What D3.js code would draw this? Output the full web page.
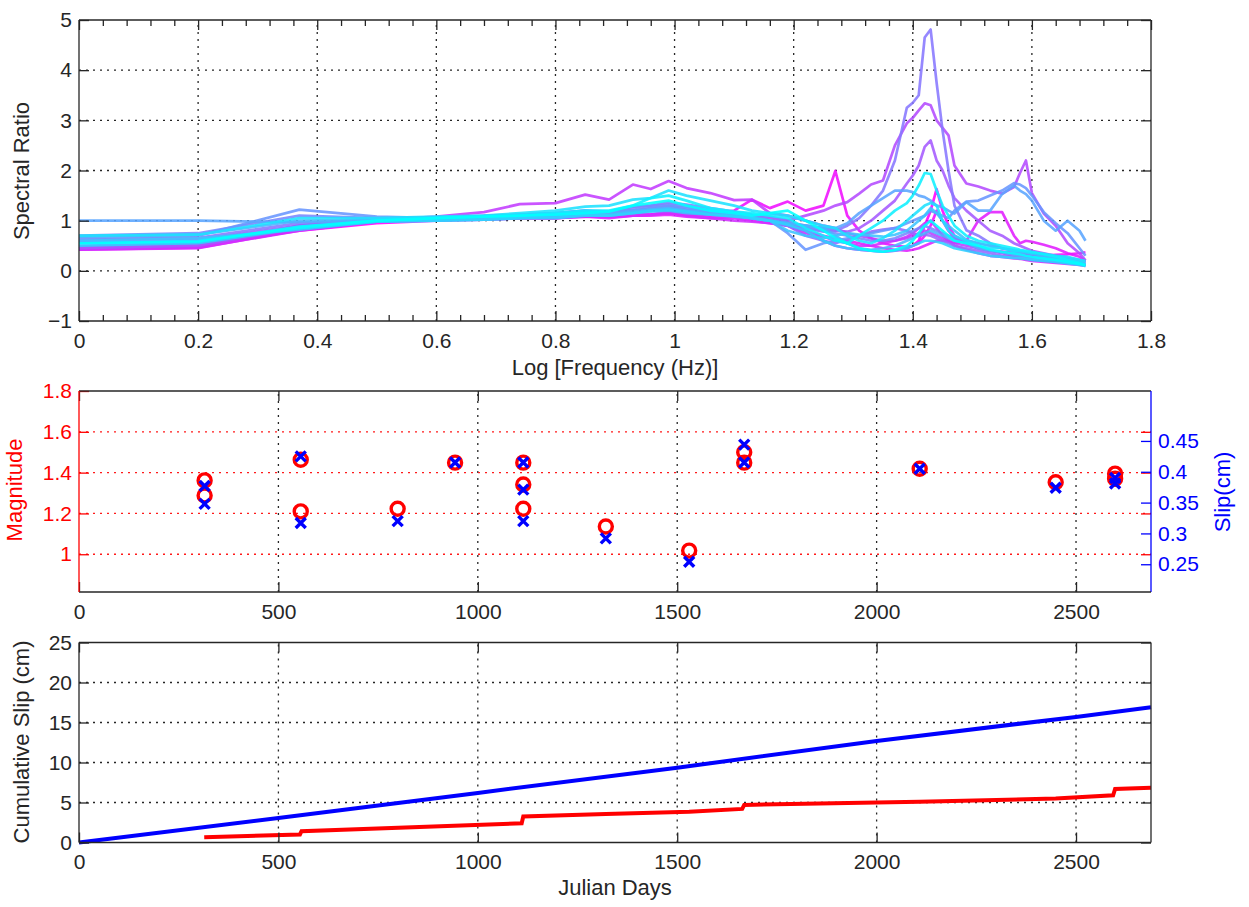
<!DOCTYPE html>
<html>
<head>
<meta charset="utf-8">
<script src="https://d3js.org/d3.v7.min.js"></script>
<style>
  body { margin: 0; background: #fff; }
</style>
</head>
<body>
<svg id="fig" width="1249" height="907"></svg>
<script>
// ---------- data ----------

// top panel: spectral ratio curves, one row per event (cyan -> magenta)
var logFreq = [0, 0.2, 0.37, 0.5, 0.6, 0.68, 0.74,
  0.8, 0.85, 0.89, 0.93, 0.96, 0.99, 1.02,
  1.06, 1.1, 1.13, 1.16, 1.19, 1.22, 1.25,
  1.27, 1.29, 1.31, 1.33, 1.35, 1.37, 1.39,
  1.40, 1.41, 1.42, 1.43, 1.44, 1.45, 1.46,
  1.47, 1.49, 1.51, 1.53, 1.55, 1.57, 1.58,
  1.59, 1.60, 1.62, 1.64, 1.66, 1.68, 1.69];

var spectralRatio = [
  [0.55, 0.58, 0.88, 1.0, 1.05, 1.08, 1.1,
   1.12, 1.15, 1.18, 1.3, 1.35, 1.4, 1.3,
   1.2, 1.15, 1.1, 1.15, 1.2, 1.0, 0.8,
   0.65, 0.55, 0.45, 0.4, 0.38, 0.42, 0.5,
   0.6, 0.75, 0.9, 1.0, 0.9, 0.8, 0.7,
   0.6, 0.55, 0.5, 0.42, 0.38, 0.35, 0.33,
   0.3, 0.28, 0.25, 0.22, 0.18, 0.14, 0.1],
  [0.55, 0.6, 0.85, 1.0, 1.05, 1.08, 1.1,
   1.15, 1.2, 1.2, 1.3, 1.45, 1.5, 1.4,
   1.25, 1.18, 1.15, 1.1, 1.05, 0.85, 0.7,
   0.6, 0.55, 0.7, 0.85, 1.0, 1.2, 1.35,
   1.5, 1.7, 1.95, 1.93, 1.6, 1.3, 1.1,
   0.9, 0.7, 0.6, 0.55, 0.5, 0.45, 0.42,
   0.4, 0.38, 0.33, 0.28, 0.22, 0.16, 0.12],
  [0.7, 0.72, 1.05, 1.05, 1.08, 1.1, 1.15,
   1.2, 1.28, 1.3, 1.42, 1.45, 1.6, 1.5,
   1.4, 1.3, 1.2, 1.15, 1.1, 1.0, 0.9,
   0.85, 0.7, 0.6, 0.55, 0.65, 0.8, 1.0,
   1.1, 1.2, 1.3, 1.35, 1.3, 1.0, 0.8,
   0.7, 0.6, 0.5, 0.45, 0.45, 0.4, 0.4,
   0.38, 0.36, 0.34, 0.3, 0.28, 0.22, 0.2],
  [0.5, 0.55, 0.85, 0.98, 1.0, 1.02, 1.05,
   1.05, 1.1, 1.1, 1.15, 1.2, 1.22, 1.18,
   1.12, 1.08, 1.05, 1.0, 0.92, 0.8, 0.6,
   0.5, 0.45, 0.42, 0.4, 0.38, 0.4, 0.45,
   0.5, 0.55, 0.6, 0.6, 0.58, 0.55, 0.5,
   0.45, 0.4, 0.35, 0.3, 0.28, 0.26, 0.25,
   0.24, 0.22, 0.2, 0.18, 0.15, 0.12, 0.1],
  [0.6, 0.65, 0.82, 0.98, 1.0, 1.02, 1.05,
   1.08, 1.12, 1.1, 1.15, 1.18, 1.2, 1.15,
   1.12, 1.1, 1.05, 1.0, 0.8, 0.7, 0.65,
   0.7, 0.75, 0.72, 0.7, 0.68, 0.72, 0.8,
   0.9, 1.0, 1.1, 1.25, 1.15, 1.0, 0.9,
   0.8, 0.62, 0.55, 0.5, 0.45, 0.4, 0.38,
   0.36, 0.34, 0.3, 0.27, 0.24, 0.2, 0.16],
  [0.68, 0.72, 1.0, 1.02, 1.05, 1.08, 1.1,
   1.1, 1.15, 1.12, 1.18, 1.22, 1.25, 1.2,
   1.18, 1.1, 1.05, 1.0, 0.95, 0.9, 0.85,
   0.7, 0.55, 0.45, 0.42, 0.45, 0.5, 0.6,
   0.65, 0.7, 0.75, 0.8, 0.75, 0.7, 0.65,
   0.6, 0.55, 0.45, 0.4, 0.36, 0.32, 0.3,
   0.28, 0.26, 0.24, 0.22, 0.2, 0.16, 0.13],
  [1.0, 1.0, 0.97, 1.0, 1.05, 1.05, 1.1,
   1.1, 1.15, 1.15, 1.2, 1.22, 1.25, 1.2,
   1.15, 1.1, 1.05, 1.0, 0.95, 0.9, 0.85,
   0.85, 0.95, 1.15, 1.3, 1.45, 1.6, 1.6,
   1.57, 1.5, 1.47, 1.4, 1.3, 1.27, 1.2,
   1.14, 1.37, 1.2, 1.2, 1.53, 1.7, 1.6,
   1.53, 1.4, 1.0, 0.8, 1.0, 0.8, 0.6],
  [0.65, 0.7, 1.22, 1.08, 1.05, 1.05, 1.1,
   1.1, 1.15, 1.15, 1.2, 1.25, 1.3, 1.25,
   1.2, 1.15, 1.1, 1.0, 0.75, 0.42, 0.55,
   0.6, 0.65, 0.7, 0.75, 0.8, 0.85, 0.95,
   1.0, 1.05, 1.1, 1.2, 1.15, 1.1, 1.05,
   1.2, 1.38, 1.4, 1.5, 1.6, 1.75, 1.72,
   1.65, 1.5, 1.17, 0.95, 0.75, 0.45, 0.3],
  [0.7, 0.75, 1.1, 1.05, 1.05, 1.1, 1.12,
   1.15, 1.2, 1.15, 1.25, 1.3, 1.32, 1.28,
   1.2, 1.15, 1.1, 1.0, 0.9, 0.85, 0.8,
   0.75, 0.7, 0.65, 0.6, 0.6, 0.65, 0.75,
   0.8, 0.85, 0.9, 0.85, 0.8, 0.75, 0.7,
   0.65, 0.6, 0.55, 0.5, 0.45, 0.42, 0.4,
   0.38, 0.35, 0.32, 0.3, 0.26, 0.22, 0.18],
  [0.62, 0.66, 0.95, 1.02, 1.05, 1.07, 1.12,
   1.15, 1.2, 1.18, 1.28, 1.3, 1.36, 1.32,
   1.25, 1.18, 1.12, 1.08, 1.0, 0.85, 0.78,
   0.8, 0.9, 1.05, 1.3, 1.6, 2.2, 3.25,
   3.35, 3.5, 4.65, 4.81, 3.75, 2.8, 2.0,
   1.3, 0.81, 0.7, 0.55, 0.45, 0.4, 0.38,
   0.35, 0.32, 0.28, 0.25, 0.2, 0.15, 0.12],
  [0.58, 0.62, 0.9, 1.0, 1.05, 1.05, 1.08,
   1.1, 1.15, 1.12, 1.2, 1.22, 1.25, 1.2,
   1.15, 1.12, 1.08, 1.0, 0.9, 0.7, 0.6,
   0.55, 0.62, 0.7, 0.78, 0.82, 0.85, 0.8,
   0.75, 0.7, 0.72, 0.7, 0.65, 0.6, 0.55,
   0.5, 0.45, 0.4, 0.35, 0.3, 0.28, 0.25,
   0.24, 0.22, 0.2, 0.18, 0.16, 0.14, 0.12],
  [0.45, 0.5, 0.85, 1.0, 1.05, 1.05, 1.1,
   1.1, 1.15, 1.12, 1.18, 1.2, 1.22, 1.2,
   1.15, 1.1, 1.05, 1.0, 0.95, 0.9, 0.85,
   0.8, 0.78, 0.85, 1.0, 1.2, 1.4, 1.74,
   1.9, 2.1, 2.47, 2.6, 2.2, 2.0, 1.7,
   1.45, 1.2, 1.0, 0.8, 0.7, 0.55, 0.5,
   0.45, 0.4, 0.35, 0.3, 0.25, 0.2, 0.18],
  [0.5, 0.55, 0.88, 1.0, 1.05, 1.08, 1.1,
   1.12, 1.15, 1.18, 1.2, 1.25, 1.28, 1.22,
   1.18, 1.12, 1.1, 1.05, 1.0, 1.1, 1.2,
   1.3, 1.37, 1.54, 1.72, 1.8, 2.5, 2.94,
   3.05, 3.2, 3.34, 3.3, 3.0, 2.85, 2.7,
   2.1, 1.74, 1.68, 1.6, 1.54, 1.67, 1.95,
   2.2, 1.55, 1.14, 0.9, 0.55, 0.35, 0.21],
  [0.48, 0.52, 0.9, 1.01, 1.08, 1.17, 1.33,
   1.35, 1.52, 1.42, 1.72, 1.63, 1.79, 1.65,
   1.55, 1.41, 1.42, 1.15, 1.1, 1.0, 0.9,
   0.85, 0.75, 0.7, 0.65, 0.6, 0.6, 0.65,
   0.7, 0.75, 0.8, 0.75, 0.7, 0.65, 0.6,
   0.55, 0.5, 0.45, 0.4, 0.38, 0.35, 0.33,
   0.32, 0.3, 0.28, 0.25, 0.2, 0.15, 0.1],
  [0.42, 0.46, 0.8, 0.98, 1.02, 1.02, 1.05,
   1.05, 1.08, 1.08, 1.1, 1.12, 1.15, 1.1,
   1.05, 1.0, 0.98, 0.95, 0.9, 0.75, 0.68,
   0.6, 0.55, 0.5, 0.5, 0.55, 0.6, 0.68,
   0.75, 0.85, 0.95, 1.0, 0.85, 0.7, 0.6,
   0.5, 0.42, 0.35, 0.3, 0.28, 0.25, 0.24,
   0.22, 0.2, 0.18, 0.16, 0.14, 0.12, 0.1],
  [0.42, 0.45, 0.82, 0.98, 1.02, 1.05, 1.05,
   1.05, 1.08, 1.05, 1.1, 1.1, 1.12, 1.08,
   1.05, 1.05, 1.0, 0.95, 0.9, 0.8, 0.7,
   0.65, 0.6, 0.55, 0.5, 0.45, 0.42, 0.4,
   0.42, 0.45, 0.5, 0.55, 0.6, 0.6, 0.58,
   0.55, 0.6, 1.0, 1.17, 1.17, 0.7, 0.55,
   0.6, 0.58, 0.52, 0.45, 0.35, 0.28, 0.2],
  [0.45, 0.48, 0.9, 1.0, 1.05, 1.05, 1.08,
   1.1, 1.12, 1.1, 1.15, 1.12, 1.18, 1.15,
   1.12, 1.2, 1.42, 1.25, 1.38, 1.2, 1.3,
   1.99, 1.1, 0.8, 0.65, 0.55, 0.5, 0.48,
   0.5, 0.55, 0.7, 0.9, 1.2, 1.0, 0.8,
   0.65, 0.55, 0.45, 0.4, 0.38, 0.36, 0.34,
   0.33, 0.32, 0.3, 0.32, 0.33, 0.35, 0.37],
  [0.45, 0.5, 0.8, 0.95, 1.0, 1.02, 1.05,
   1.05, 1.1, 1.08, 1.1, 1.12, 1.15, 1.12,
   1.1, 1.08, 1.05, 1.0, 0.95, 0.8, 0.6,
   0.5, 0.45, 0.42, 0.4, 0.38, 0.4, 0.45,
   0.5, 0.6, 0.9, 1.2, 1.63, 1.2, 0.9,
   0.7, 0.55, 0.45, 0.4, 0.35, 0.3, 0.3,
   0.28, 0.26, 0.25, 0.24, 0.22, 0.2, 0.18]
];

// middle panel: individual events
var eventDays = [315, 315, 556, 556, 799, 943, 1114, 1114, 1114, 1321, 1530, 1668, 1668, 2108, 2449, 2598, 2598];
var magnitudes = [1.362, 1.288, 1.463, 1.21, 1.223, 1.449, 1.449, 1.342, 1.223, 1.136, 1.018, 1.50, 1.449, 1.419, 1.353, 1.395, 1.37];
var slips = [0.377, 0.348, 0.425, 0.317, 0.32, 0.415, 0.415, 0.371, 0.32, 0.292, 0.254, 0.444, 0.415, 0.405, 0.374, 0.39, 0.381];

// bottom panel: cumulative slip
var plateDays = [0, 500, 1000, 1500, 2000, 2500, 2688];
var plateSlip = [0, 3.05, 6.2, 9.35, 12.7, 15.7, 16.9];
var seismicDays = [314, 554, 558, 1110, 1114, 1321, 1530, 1663, 1668, 2108, 2449, 2593, 2598, 2688];
var seismicSlip = [0.65, 1.0, 1.41, 2.41, 3.25, 3.55, 3.85, 4.2, 4.7, 5.1, 5.5, 5.9, 6.7, 6.84];

// tick labels
var freqTicks = [0, 0.2, 0.4, 0.6, 0.8, 1, 1.2, 1.4, 1.6, 1.8];
var freqTickLabels = ['0', '0.2', '0.4', '0.6', '0.8', '1', '1.2', '1.4', '1.6', '1.8'];
var ratioTicks = [-1, 0, 1, 2, 3, 4, 5];
var ratioTickLabels = ['\u22121', '0', '1', '2', '3', '4', '5'];
var dayTicks = [0, 500, 1000, 1500, 2000, 2500];
var dayTickLabels = ['0', '500', '1000', '1500', '2000', '2500'];
var magTicks = [1, 1.2, 1.4, 1.6, 1.8];
var magTickLabels = ['1', '1.2', '1.4', '1.6', '1.8'];
var slipTicks = [0.25, 0.3, 0.35, 0.4, 0.45];
var slipTickLabels = ['0.25', '0.3', '0.35', '0.4', '0.45'];
var cumTicks = [0, 5, 10, 15, 20, 25];
var cumTickLabels = ['0', '5', '10', '15', '20', '25'];


var svg = d3.select('#fig');
var FONT = '"Liberation Sans", Arial, Helvetica, sans-serif';
var INK = '#262626';
var plotLeft = 79, plotRight = 1151;

svg.append('rect').attr('width', 1249).attr('height', 907).attr('fill', '#fff');

// dotted grid lines, matlab style
function gridLines(g, x, y, xs, ys, xColor, yColor) {
    var yr = y.range(), xr = x.range();
    g.selectAll(null).data(xs).enter().append('line')
        .attr('x1', d => x(d)).attr('x2', d => x(d))
        .attr('y1', yr[0]).attr('y2', yr[1])
        .attr('stroke', xColor).attr('stroke-width', 1.3).attr('stroke-dasharray', '2,5');
    g.selectAll(null).data(ys).enter().append('line')
        .attr('y1', d => y(d)).attr('y2', d => y(d))
        .attr('x1', xr[0]).attr('x2', xr[1])
        .attr('stroke', yColor).attr('stroke-width', 1.3).attr('stroke-dasharray', '2,5');
}

// draw an axis with inward ticks and restyle it
function drawAxis(g, axis, tx, ty, color) {
    var a = g.append('g').attr('transform', 'translate(' + tx + ',' + ty + ')').call(axis);
    a.select('.domain').remove();
    a.attr('font-size', 21).attr('font-family', FONT);
    a.selectAll('line').attr('stroke', color).attr('stroke-width', 1.3);
    a.selectAll('text').attr('fill', color);
    return a;
}

function box(g, x0, x1, y0, y1, colors) {
    // top, right, bottom, left
    g.append('line').attr('x1', x0).attr('x2', x1).attr('y1', y0).attr('y2', y0).attr('stroke', colors[0]).attr('stroke-width', 1.3);
    g.append('line').attr('x1', x1).attr('x2', x1).attr('y1', y0).attr('y2', y1).attr('stroke', colors[1]).attr('stroke-width', 1.3);
    g.append('line').attr('x1', x0).attr('x2', x1).attr('y1', y1).attr('y2', y1).attr('stroke', colors[2]).attr('stroke-width', 1.3);
    g.append('line').attr('x1', x0).attr('x2', x0).attr('y1', y0).attr('y2', y1).attr('stroke', colors[3]).attr('stroke-width', 1.3);
}

function label(text, x, y, color, rotate) {
    svg.append('text')
        .attr('transform', 'translate(' + x + ',' + y + ')' + (rotate ? ' rotate(-90)' : ''))
        .attr('text-anchor', 'middle')
        .attr('font-family', FONT).attr('font-size', 22)
        .attr('fill', color)
        .text(text);
}


// ---------- top panel ----------
var top1 = 20, bot1 = 321;
var xF = d3.scaleLinear().domain([0, 1.8]).range([plotLeft, plotRight]);
var yR = d3.scaleLinear().domain([-1, 5]).range([bot1, top1]);
var g1 = svg.append('g');

gridLines(g1, xF, yR, freqTicks.slice(1, -1), ratioTicks.slice(1, -1), INK, INK);

var minorF = d3.range(0, 1.8001, 0.04).filter(d => Math.abs(d / 0.2 - Math.round(d / 0.2)) > 0.01);

var specLine = d3.line().x((d, i) => xF(logFreq[i])).y(d => yR(d));
var n = spectralRatio.length;
var curves = spectralRatio.map((v, i) => ({ v: v, t: i / (n - 1) })).reverse();
g1.selectAll('.spec').data(curves).enter().append('path')
    .attr('d', d => specLine(d.v))
    .attr('fill', 'none')
    .attr('stroke', d => d3.rgb(255 * d.t, 255 * (1 - d.t), 255))
    .attr('stroke-opacity', 0.88)
    .attr('stroke-width', 2.7)
    .attr('stroke-linejoin', 'round');

drawAxis(g1, d3.axisBottom(xF).tickValues(freqTicks).tickFormat((d, i) => freqTickLabels[i]).tickSize(-10).tickPadding(12), 0, bot1, INK);
drawAxis(g1, d3.axisTop(xF).tickValues(freqTicks).tickFormat('').tickSize(-10), 0, top1, INK);
drawAxis(g1, d3.axisBottom(xF).tickValues(minorF).tickFormat('').tickSize(-6), 0, bot1, INK);
drawAxis(g1, d3.axisTop(xF).tickValues(minorF).tickFormat('').tickSize(-6), 0, top1, INK);
drawAxis(g1, d3.axisLeft(yR).tickValues(ratioTicks).tickFormat((d, i) => ratioTickLabels[i]).tickSize(-10).tickPadding(7), plotLeft, 0, INK);
drawAxis(g1, d3.axisRight(yR).tickValues(ratioTicks).tickFormat('').tickSize(-10), plotRight, 0, INK);
box(g1, plotLeft, plotRight, top1, bot1, [INK, INK, INK, INK]);

label('Log [Frequency (Hz)]', (plotLeft + plotRight) / 2, 375, INK, false);
label('Spectral Ratio', 29, 171, INK, true);


// ---------- middle panel ----------
var top2 = 391, bot2 = 592;
var xD = d3.scaleLinear().domain([0, 2688]).range([plotLeft, plotRight]);
var yM = d3.scaleLinear().domain([0.815, 1.8]).range([bot2, top2]);
var yS = d3.scaleLinear().domain([0.205, 0.531]).range([bot2, top2]);
var g2 = svg.append('g');

gridLines(g2, xD, yM, dayTicks.slice(1), magTicks.slice(0, -1), INK, '#ff1a1a');

g2.selectAll('.mag').data(magnitudes).enter().append('circle')
    .attr('cx', (d, i) => xD(eventDays[i]))
    .attr('cy', d => yM(d))
    .attr('r', 6.5)
    .attr('fill', 'none').attr('stroke', '#ff0000').attr('stroke-width', 3.4);

g2.selectAll('.slip').data(slips).enter().append('path')
    .attr('transform', (d, i) => 'translate(' + xD(eventDays[i]) + ',' + yS(d) + ')')
    .attr('d', 'M-5,-5L5,5M-5,5L5,-5')
    .attr('fill', 'none').attr('stroke', '#0000ff').attr('stroke-width', 3.4);

drawAxis(g2, d3.axisBottom(xD).tickValues(dayTicks).tickFormat((d, i) => dayTickLabels[i]).tickSize(-10).tickPadding(12), 0, bot2, INK);
drawAxis(g2, d3.axisTop(xD).tickValues(dayTicks).tickFormat('').tickSize(-10), 0, top2, INK);
drawAxis(g2, d3.axisLeft(yM).tickValues(magTicks).tickFormat((d, i) => magTickLabels[i]).tickSize(-10).tickPadding(7), plotLeft, 0, '#ff0000');
drawAxis(g2, d3.axisLeft(yM).tickValues(magTicks.slice(0, -1)).tickFormat('').tickSize(10), plotRight, 0, '#ff0000');
drawAxis(g2, d3.axisRight(yS).tickValues(slipTicks).tickFormat((d, i) => slipTickLabels[i]).tickSize(-10).tickPadding(7), plotRight, 0, '#0000ff');
box(g2, plotLeft, plotRight, top2, bot2, [INK, '#0000ff', INK, '#ff0000']);

label('Magnitude', 22, 490, '#ff0000', true);
label('Slip(cm)', 1230, 492, '#0000ff', true);


// ---------- bottom panel ----------
var top3 = 642.5, bot3 = 842.5;
var yC = d3.scaleLinear().domain([0, 25]).range([bot3, top3]);
var g3 = svg.append('g');

gridLines(g3, xD, yC, dayTicks.slice(1), cumTicks.slice(1, -1), INK, INK);

var cumLine = d3.line().x(d => xD(d[0])).y(d => yC(d[1]));
g3.append('path')
    .datum(plateDays.map((d, i) => [d, plateSlip[i]]))
    .attr('d', cumLine)
    .attr('fill', 'none').attr('stroke', '#0000ff').attr('stroke-width', 4);
g3.append('path')
    .datum(seismicDays.map((d, i) => [d, seismicSlip[i]]))
    .attr('d', cumLine)
    .attr('fill', 'none').attr('stroke', '#ff0000').attr('stroke-width', 4);

drawAxis(g3, d3.axisBottom(xD).tickValues(dayTicks).tickFormat((d, i) => dayTickLabels[i]).tickSize(-10).tickPadding(12), 0, bot3, INK);
drawAxis(g3, d3.axisTop(xD).tickValues(dayTicks).tickFormat('').tickSize(-10), 0, top3, INK);
drawAxis(g3, d3.axisLeft(yC).tickValues(cumTicks).tickFormat((d, i) => cumTickLabels[i]).tickSize(-10).tickPadding(7), plotLeft, 0, INK);
drawAxis(g3, d3.axisRight(yC).tickValues(cumTicks).tickFormat('').tickSize(-10), plotRight, 0, INK);
box(g3, plotLeft, plotRight, top3, bot3, [INK, INK, INK, INK]);

label('Julian Days', (plotLeft + plotRight) / 2, 895, INK, false);
label('Cumulative Slip (cm)', 29, 742, INK, true);
</script>
</body>
</html>
